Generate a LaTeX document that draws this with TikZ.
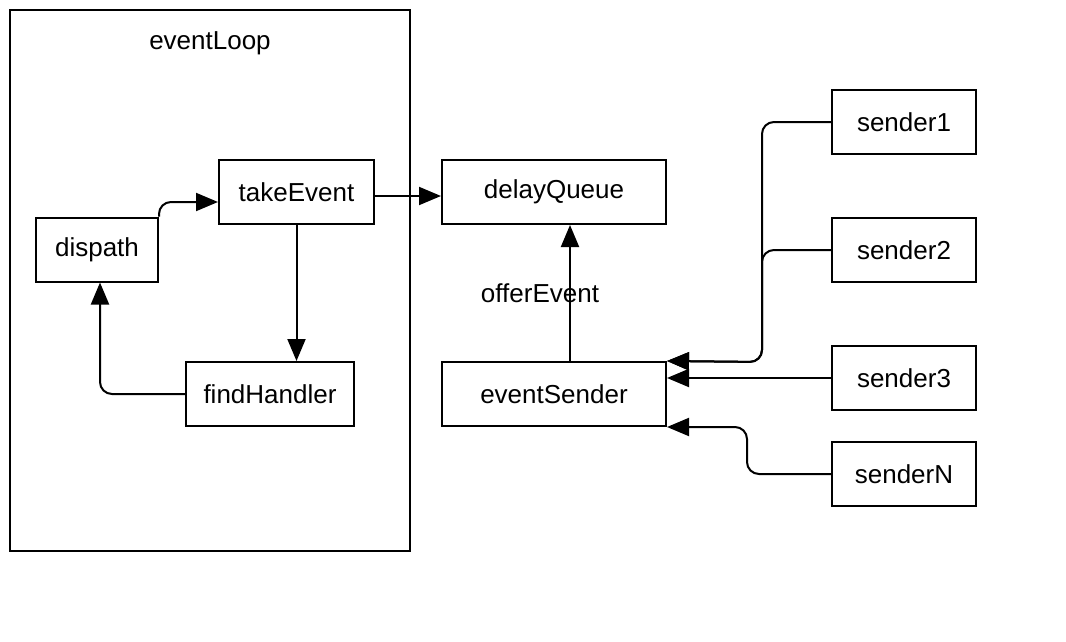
\documentclass[tikz,border=0pt]{standalone}
\usepackage{fontspec}
\setmainfont{Liberation Sans}
\usetikzlibrary{arrows.meta, positioning}

\begin{document}
\begin{tikzpicture}[x=1pt, y=-1pt, line width=2pt,
    txt/.style={font=\fontsize{26}{30}\selectfont},
    box/.style={draw, txt, inner sep=0pt, minimum height=64pt},
    arr/.style={-{Triangle[length=22pt, width=18pt]}, rounded corners=12pt}]
  \useasboundingbox (0,0) rectangle (1066,642);

  \node (loop) [draw, inner sep=0pt, minimum width=400pt, minimum height=541pt] at (210,280.5) {};
  \node (loopname) [txt] at (210,43) {eventLoop};

  \node (take) [box, minimum width=155pt] at (296.5,192) {takeEvent};
  \node (dispath) [box, minimum width=122pt] at (97,249.5) {dispath};
  \node (find) [box, minimum width=168pt] at (270,394) {findHandler};
  \node (queue) [box, minimum width=224pt] at (554,192) {delayQueue};
  \node (sender) [box, minimum width=224pt] at (554,394) {eventSender};

  \node (s1) [box, minimum width=144pt] at (904,122) {sender1};
  \node (s2) [box, minimum width=144pt] at (904,250) {sender2};
  \node (s3) [box, minimum width=144pt] at (904,378) {sender3};
  \node (sN) [box, minimum width=144pt] at (904,474) {senderN};

  \coordinate (join) at (762,362);

  \draw [arr] (dispath.north east) |- ([yshift=-10pt]take.west);
  \draw [arr] (take.south) -- (take.south |- find.north);
  \draw [arr] (find.west) -| ([xshift=3pt]dispath.south);
  \draw [arr] ([yshift=-4pt]take.east) -- ([yshift=-4pt]queue.west);
  \draw [arr] ([xshift=16pt]sender.north) -- node [txt, xshift=-30pt] {offerEvent} ([xshift=16pt]queue.south);

  \draw [arr] (s1.west) -| (join) -- (sender.north east);
  \draw [arr] (s2.west) -| (join) -- (sender.north east);
  \draw [arr] (s3.west) -- (s3.west -| sender.east);
  \draw [arr] (sN.west) -| ([xshift=80pt]sender.south east) -- (sender.south east);
\end{tikzpicture}
\end{document}
